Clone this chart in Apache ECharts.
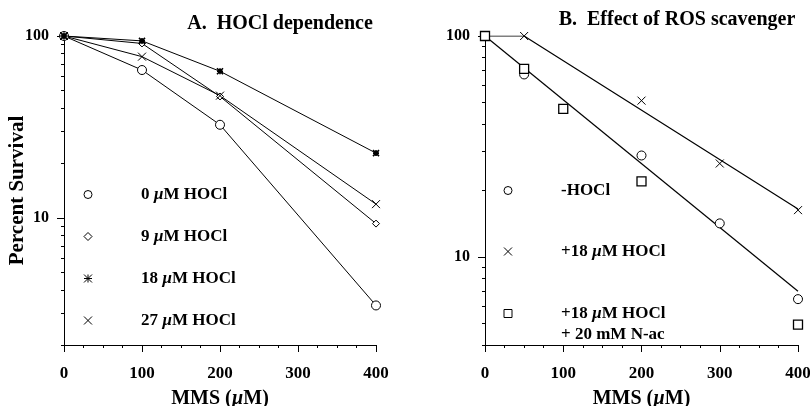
<!DOCTYPE html>
<html><head><meta charset="utf-8">
<script src="https://cdn.jsdelivr.net/npm/echarts@6/dist/echarts.min.js"></script>
<style>html,body{margin:0;padding:0;background:#fff}#c{width:810px;height:406px}</style>
</head><body><div id="c"></div>
<script>
// ---- Panel A data ----
const xA = [0, 100, 200, 400];
const a0 = [100, 65, 32.5, 3.3];
const a9 = [100, 91, 46.5, 9.3];
const a18 = [100, 94, 64, 22.7];
const a27 = [100, 77, 47, 11.9];
// ---- Panel B data ----
const xBminus = [0, 50, 200, 300, 400];
const bMinus = [100, 67, 28.8, 14.2, 6.45];
const xBhocl = [50, 200, 300, 400];
const bHocl = [100, 51, 26.5, 16.3];
const xBnac = [0, 50, 100, 200, 400];
const bNac = [100, 71, 46.8, 22, 4.95];
const xFitLow = [0, 400];
const fitLow = [100, 7.0];
const xFitHigh = [0, 50, 400];
const fitHigh = [100, 100, 16.5];
// ---- axis ticks ----
const yMajor = [10, 100];
const yMinorA = [2, 3, 4, 5, 6, 7, 8, 9, 20, 30, 40, 50, 60, 70, 80, 90];
const yMinorB = [4, 5, 6, 7, 8, 9, 20, 30, 40, 50, 60, 70, 80, 90];

const zip = (xs, ys) => xs.map((x, i) => [x, ys[i]]);
const FONT = '"Liberation Serif", "Times New Roman", serif';
const SYM_X = 'path://M0,0L10,10M10,0L0,10';
const SYM_AST = 'path://M0,0L10,10M10,0L0,10M0,5L10,5M5,0L5,10';
const rich = { i: { fontStyle: 'italic', fontWeight: 'bold', fontFamily: FONT, fontSize: 17, color: '#000' } };
const richName = { i: { fontStyle: 'italic', fontWeight: 'bold', fontFamily: FONT, fontSize: 20, color: '#000' } };

function xAxis(idx) {
  return {
    gridIndex: idx, type: 'value', min: 0, max: 400, interval: 100,
    name: 'MMS ({i|µ}M)', nameLocation: 'middle', nameGap: 44, nameMoveOverlap: false,
    nameTextStyle: { fontFamily: FONT, fontWeight: 'bold', fontSize: 20, color: '#000', rich: richName },
    axisLine: { show: true, lineStyle: { color: '#000', width: 1 } },
    axisTick: { show: true, length: 7, lineStyle: { color: '#000' } },
    minorTick: { show: true, splitNumber: 4, length: 3, lineStyle: { color: '#000' } },
    splitLine: { show: false },
    axisLabel: { fontFamily: FONT, fontWeight: 'bold', fontSize: 17, color: '#000', margin: 20 }
  };
}
function yAxis(idx, mn, name) {
  return {
    gridIndex: idx, type: 'log', logBase: 10, min: mn, max: 100, position: 'left',
    name: name, nameLocation: 'middle', nameGap: 36, nameMoveOverlap: false,
    nameTextStyle: { fontFamily: FONT, fontWeight: 'bold', fontSize: 21, color: '#000' },
    axisLine: { show: true, onZero: false, lineStyle: { color: '#000', width: 1 } },
    axisTick: { show: true, length: 7, customValues: yMajor, lineStyle: { color: '#000' } },
    splitLine: { show: false },
    axisLabel: {
      fontFamily: FONT, fontWeight: 'bold', fontSize: 16, color: '#000', margin: 15,
      customValues: yMajor, formatter: v => String(Math.round(v))
    }
  };
}
// overlay axis carrying only the minor log ticks
function yMinorAxis(idx, mn, values) {
  return {
    gridIndex: idx, type: 'log', logBase: 10, min: mn, max: 100, position: 'left', offset: 0,
    axisLine: { show: false, onZero: false },
    axisTick: { show: true, length: 3, customValues: values, lineStyle: { color: '#000' } },
    axisLabel: { show: false }, splitLine: { show: false }
  };
}
function lineSeries(name, xs, ys, sym, size, idx, showLine, bw) {
  return {
    name: name, type: 'line', xAxisIndex: idx, yAxisIndex: idx,
    data: zip(xs, ys), symbol: sym, symbolSize: size, showSymbol: true,
    itemStyle: { color: '#fff', borderColor: '#000', borderWidth: bw || 1 },
    lineStyle: { color: '#000', width: 1, opacity: showLine ? 1 : 0 },
    emphasis: { disabled: true }, animation: false, z: 3
  };
}
function fitSeries(xs, ys, idx) {
  return {
    name: 'fit', type: 'line', xAxisIndex: idx, yAxisIndex: idx,
    data: zip(xs, ys), symbol: 'none', showSymbol: false,
    lineStyle: { color: '#000', width: 1.2 }, emphasis: { disabled: true }, animation: false, z: 2
  };
}
const legendCommon = {
  orient: 'vertical', itemWidth: 96, itemHeight: 10,
  lineStyle: { color: 'rgba(0,0,0,0)', opacity: 0 },
  itemStyle: { color: '#fff', borderColor: '#000', borderWidth: 1 },
  selectedMode: false,
  textStyle: { fontFamily: FONT, fontWeight: 'bold', fontSize: 17, color: '#000', rich: rich }
};
const NAC = '+18 {i|µ}M HOCl\n+ 20 mM N-ac';

const chart = echarts.init(document.getElementById('c'), null, { renderer: 'canvas' });
const option = {
  animation: false,
  backgroundColor: '#fff',
  title: [
    { text: 'A.  HOCl dependence', left: 275, top: 9, textAlign: 'center',
      textStyle: { fontFamily: FONT, fontWeight: 'bold', fontSize: 20, color: '#000' } },
    { text: 'B.  Effect of ROS scavenger', left: 672, top: 5, textAlign: 'center',
      textStyle: { fontFamily: FONT, fontWeight: 'bold', fontSize: 20, color: '#000' } }
  ],
  grid: [
    { left: 64, right: 434, top: 36, bottom: 61, containLabel: false, outerBoundsMode: 'none' },
    { left: 485, right: 12, top: 36, bottom: 61, containLabel: false, outerBoundsMode: 'none' }
  ],
  xAxis: [xAxis(0), xAxis(1)],
  yAxis: [yAxis(0, 2, 'Percent Survival'), yAxis(1, 4, ''), yMinorAxis(0, 2, yMinorA), yMinorAxis(1, 4, yMinorB)],
  legend: [
    Object.assign({}, legendCommon, {
      left: 34, top: 181, itemGap: 25,
      data: ['0 {i|µ}M HOCl', '9 {i|µ}M HOCl', '18 {i|µ}M HOCl', '27 {i|µ}M HOCl'],
      formatter: n => n
    }),
    Object.assign({}, legendCommon, {
      left: 454, top: 177, itemGap: 44,
      data: ['-HOCl', '+18 {i|µ}M HOCl'],
      formatter: n => n
    }),
    Object.assign({}, legendCommon, {
      left: 454, top: 277,
      data: [{ name: NAC, textStyle: { lineHeight: 21, padding: [21, 0, 0, 0] } }],
      formatter: n => n
    })
  ],
  series: [
    lineSeries('0 {i|µ}M HOCl', xA, a0, 'circle', 9, 0, true),
    lineSeries('9 {i|µ}M HOCl', xA, a9, 'diamond', 7, 0, true),
    lineSeries('18 {i|µ}M HOCl', xA, a18, SYM_AST, 6, 0, true, 1.6),
    lineSeries('27 {i|µ}M HOCl', xA, a27, SYM_X, 8, 0, true),
    fitSeries(xFitLow, fitLow, 1),
    fitSeries(xFitHigh, fitHigh, 1),
    lineSeries('-HOCl', xBminus, bMinus, 'circle', 9, 1, false),
    lineSeries('+18 {i|µ}M HOCl', xBhocl, bHocl, SYM_X, 8, 1, false),
    lineSeries(NAC, xBnac, bNac, 'rect', 9, 1, false, 1.3)
  ]
};
chart.setOption(option);
</script>
</body></html>
